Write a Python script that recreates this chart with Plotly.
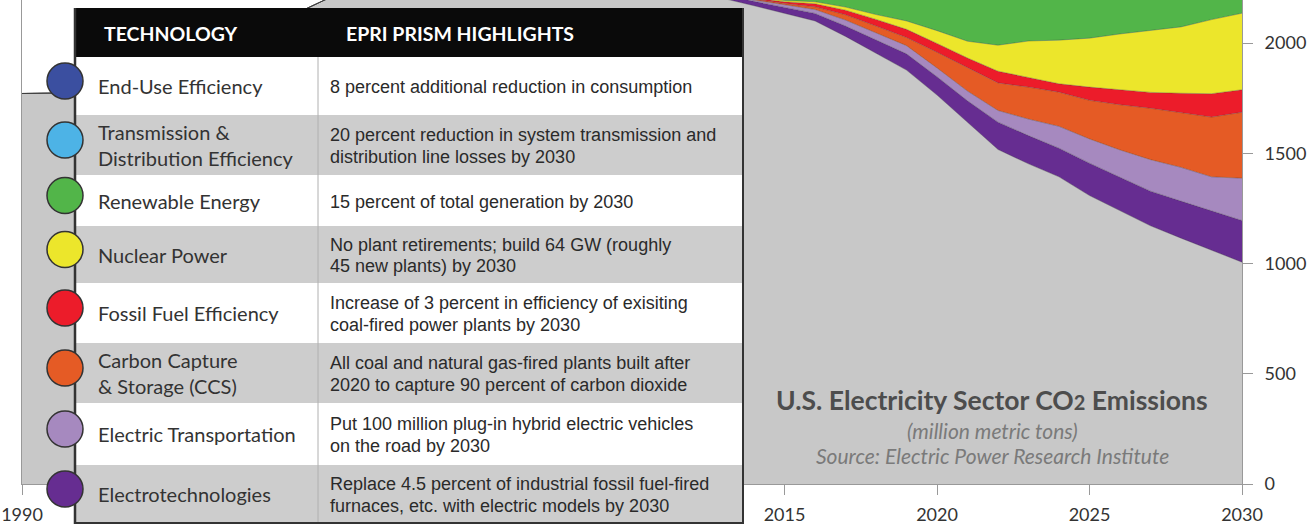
import plotly.graph_objects as go

# ---------------- data (million metric tons CO2) ----------------
years = [1990, 1992, 1999, 2000, 2005, 2008, 2010, 2012, 2014, 2015, 2016, 2017,
         2018, 2019, 2020, 2021, 2022, 2023, 2024, 2025, 2026, 2027, 2028, 2029, 2030]
remaining_emissions = [1771, 1775, 2135, 2200, 2400, 2420, 2330, 2235, 2169, 2135, 2100, 2030,
                       1954, 1877, 1764, 1640, 1517, 1452, 1393, 1308, 1240, 1171, 1115, 1060, 1006]
electrotechnologies = [0, 0, 0, 0, 0, 2, 8, 14, 20, 26, 34, 47,
                       60, 74, 83, 98, 124, 128, 130, 147, 151, 157, 168, 179, 189]
electric_transportation = [0, 0, 0, 0, 0, 1, 2, 3, 6, 11, 18, 27,
                           33, 37, 40, 44, 53, 75, 99, 110, 124, 143, 153, 154, 192]
carbon_capture = [0, 0, 0, 0, 0, 1, 2, 3, 4, 7, 12, 24,
                  30, 37, 71, 107, 125, 145, 155, 175, 205, 233, 247, 271, 299]
fossil_efficiency = [0, 0, 0, 0, 0, 1, 2, 3, 5, 8, 14, 21,
                     30, 37, 40, 43, 53, 44, 38, 60, 67, 72, 89, 106, 102]
nuclear = [0, 0, 0, 0, 0, 1, 2, 3, 4, 6, 9, 14,
           22, 38, 58, 76, 118, 165, 198, 222, 254, 282, 301, 336, 347]
renewables = [0, 0, 0, 0, 0, 2, 5, 8, 10, 20, 35, 60,
              90, 120, 160, 200, 230, 250, 265, 280, 290, 300, 310, 320, 330]

x_tick_vals = [1990, 2015, 2020, 2025, 2030]
y_tick_vals = [0, 500, 1000, 1500, 2000]

technologies = ["End-Use Efficiency", "Transmission &\nDistribution Efficiency", "Renewable Energy",
                "Nuclear Power", "Fossil Fuel Efficiency", "Carbon Capture\n& Storage (CCS)",
                "Electric Transportation", "Electrotechnologies"]
highlights = ["8 percent additional reduction in consumption",
              "20 percent reduction in system transmission and\ndistribution line losses by 2030",
              "15 percent of total generation by 2030",
              "No plant retirements; build 64 GW (roughly\n45 new plants) by 2030",
              "Increase of 3 percent in efficiency of exisiting\ncoal-fired power plants by 2030",
              "All coal and natural gas-fired plants built after\n2020 to capture 90 percent of carbon dioxide",
              "Put 100 million plug-in hybrid electric vehicles\non the road by 2030",
              "Replace 4.5 percent of industrial fossil fuel-fired\nfurnaces, etc. with electric models by 2030"]
tech_colors = ["#3b4fa0", "#4db3e6", "#52b549", "#ece62b", "#ec1c2a", "#e55b25", "#a689bf", "#662d91"]

# ---------------- figure ----------------
fig = go.Figure()
series = [
    ("Remaining emissions", remaining_emissions, "#c8c8c8"),
    ("Electrotechnologies", electrotechnologies, "#662d91"),
    ("Electric Transportation", electric_transportation, "#a689bf"),
    ("Carbon Capture & Storage", carbon_capture, "#e55b25"),
    ("Fossil Fuel Efficiency", fossil_efficiency, "#ec1c2a"),
    ("Nuclear Power", nuclear, "#ece62b"),
    ("Renewable Energy", renewables, "#52b549"),
]
for name, vals, col in series:
    fig.add_trace(go.Scatter(x=years, y=vals, name=name, stackgroup="one", mode="lines",
                             line=dict(width=0.6, color="rgba(50,50,50,0.55)"),
                             fillcolor=col, hoverinfo="skip"))

PL, PR, PT, PB = 22, 1242, 0, 484


def px(x):
    return (x - PL) / (PR - PL)


def py(y):
    return (PB - y) / (PB - PT)


shapes = []
annotations = []
TL, TR, TTOP, HDR = 75, 743, 8, 57
row_edges = [57, 115, 175, 226, 283, 343, 403, 465, 523]
COL = 318

for i in range(8):
    shapes.append(dict(type="rect", xref="paper", yref="paper", layer="above",
                       x0=px(TL), x1=px(TR), y0=py(row_edges[i + 1]), y1=py(row_edges[i]),
                       fillcolor="white" if i % 2 == 0 else "#cdcdcd", line=dict(width=0)))
shapes.append(dict(type="rect", xref="paper", yref="paper", layer="above",
                   x0=px(TL), x1=px(TR), y0=py(HDR), y1=py(TTOP),
                   fillcolor="#0a0a0a", line=dict(width=0)))
shapes.append(dict(type="line", xref="paper", yref="paper", layer="above",
                   x0=px(COL), x1=px(COL), y0=py(row_edges[-1]), y1=py(HDR),
                   line=dict(color="#b0b0b0", width=1)))
shapes.append(dict(type="line", xref="paper", yref="paper", layer="above",
                   x0=px(TL), x1=px(TL), y0=py(row_edges[-1] + 1), y1=py(TTOP),
                   line=dict(color="#333333", width=2.5)))
shapes.append(dict(type="line", xref="paper", yref="paper", layer="above",
                   x0=px(TR), x1=px(TR), y0=py(row_edges[-1] + 1), y1=py(TTOP),
                   line=dict(color="#333333", width=2)))
shapes.append(dict(type="line", xref="paper", yref="paper", layer="above",
                   x0=px(TL), x1=px(TR), y0=py(row_edges[-1]), y1=py(row_edges[-1]),
                   line=dict(color="#333333", width=2)))

R = 18
for i, col in enumerate(tech_colors):
    cy = (row_edges[i] + row_edges[i + 1]) / 2 - 5
    shapes.append(dict(type="circle", xref="paper", yref="paper", layer="above",
                       x0=px(65 - R), x1=px(65 + R), y0=py(cy + R), y1=py(cy - R),
                       fillcolor=col, line=dict(color="#333333", width=1.5)))

# header text
annotations.append(dict(text="<b>TECHNOLOGY</b>", xref="paper", yref="paper", x=px(102), y=py(33),
                        xanchor="left", yanchor="middle", showarrow=False,
                        font=dict(family="Lato", size=19.5, color="white")))
annotations.append(dict(text="<b>EPRI PRISM HIGHLIGHTS</b>", xref="paper", yref="paper", x=px(344), y=py(33),
                        xanchor="left", yanchor="middle", showarrow=False,
                        font=dict(family="Lato", size=19.5, color="white")))

for i in range(8):
    rc = (row_edges[i] + row_edges[i + 1]) / 2
    lines = technologies[i].split("\n")
    for k, t in enumerate(lines):
        yy = rc + (k - (len(lines) - 1) / 2) * 25
        annotations.append(dict(text=t, xref="paper", yref="paper", x=px(96), y=py(yy),
                                xanchor="left", yanchor="middle", showarrow=False,
                                font=dict(family="Lato", size=20, color="#333333")))
    lines = highlights[i].split("\n")
    for k, t in enumerate(lines):
        yy = rc + 1 + (k - (len(lines) - 1) / 2) * 21.5
        annotations.append(dict(text=t, xref="paper", yref="paper", x=px(328), y=py(yy),
                                xanchor="left", yanchor="middle", showarrow=False,
                                font=dict(family="Liberation Sans", size=18, color="#2a2a2a")))

# chart title block
annotations.append(dict(text="<b>U.S. Electricity Sector CO<span style='font-size:20px'>2</span> Emissions</b>",
                        xref="paper", yref="paper", x=px(992), y=py(400), xanchor="center", yanchor="middle",
                        showarrow=False, font=dict(family="Lato", size=26.5, color="#4d4d4d")))
annotations.append(dict(text="<i>(million metric tons)</i>", xref="paper", yref="paper", x=px(992), y=py(430),
                        xanchor="center", yanchor="middle", showarrow=False,
                        font=dict(family="Lato", size=21, color="#7a7a7a")))
annotations.append(dict(text="<i>Source: Electric Power Research Institute</i>", xref="paper", yref="paper",
                        x=px(992), y=py(455), xanchor="center", yanchor="middle", showarrow=False,
                        font=dict(family="Lato", size=21, color="#7a7a7a")))

fig.update_layout(
    width=1313, height=525,
    margin=dict(l=PL, r=1313 - PR, t=PT, b=525 - PB),
    paper_bgcolor="white", plot_bgcolor="white", showlegend=False,
    shapes=shapes, annotations=annotations,
    xaxis=dict(range=[1990, 2030], tickvals=x_tick_vals, ticks="outside", ticklen=10,
               tickcolor="#999999", showline=True, linecolor="#999999", linewidth=1,
               showgrid=False, zeroline=False, automargin=False, ticklabelstandoff=4,
               tickfont=dict(family="Lato", size=18, color="#333333")),
    yaxis=dict(range=[0, 2195], tickvals=y_tick_vals, side="right", ticks="outside", ticklen=10,
               tickcolor="#999999", showline=True, mirror=True, linecolor="#999999", linewidth=1,
               showgrid=False, zeroline=False, automargin=False, ticklabelstandoff=8,
               tickfont=dict(family="Lato", size=18, color="#333333")),
)

fig.write_html("out.html", config={"displayModeBar": False},
               post_script="document.body.style.margin='0px';document.body.style.overflow='hidden';")
